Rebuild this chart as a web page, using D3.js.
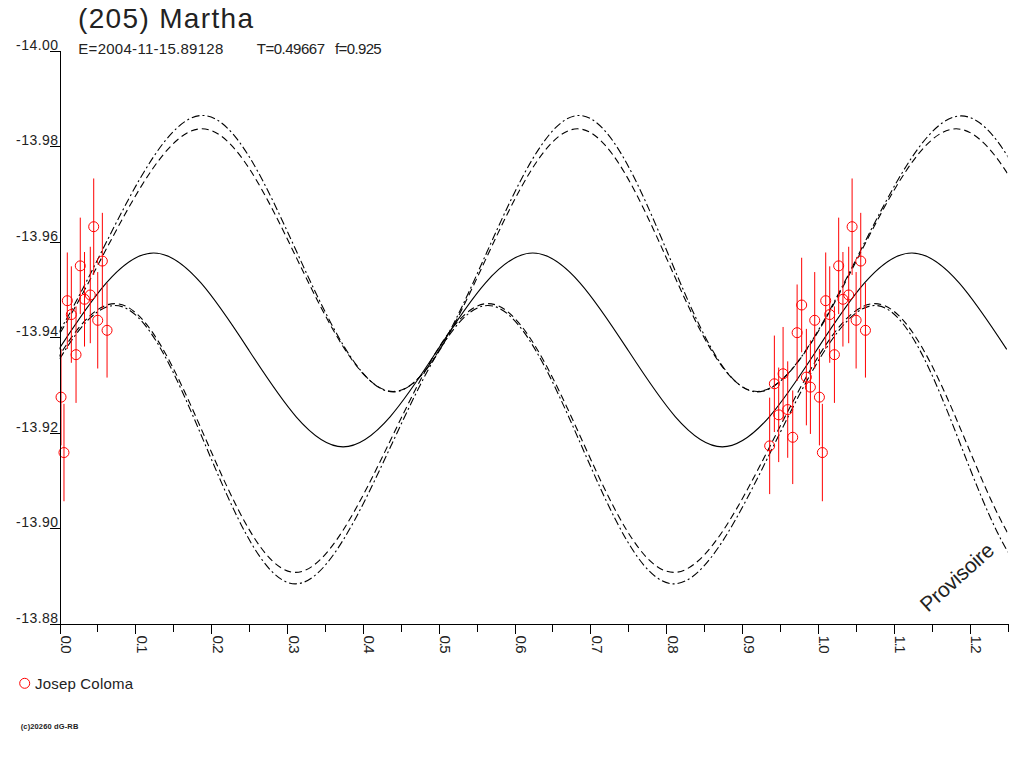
<!DOCTYPE html>
<html><head><meta charset="utf-8">
<script src="https://cdn.jsdelivr.net/npm/d3@7"></script>
<style>
html,body{margin:0;padding:0;background:#fff;}
svg{display:block;}
text{font-family:"Liberation Sans",Arial,Helvetica,sans-serif;fill:#222;}
</style></head><body>
<svg id="c" width="1024" height="768"></svg>
<script>
// ---- texts ----
const title = "(205) Martha";
const subtitleParts = ["E=2004-11-15.89128", "T=0.49667", "f=0.925"];
const observer = "Josep Coloma";
const footer = "(c)20260 dG-RB";
const watermark = "Provisoire";

// ---- observations (phase, reduced magnitude, error) ----
const obsPhase = [0.9364,0.9426,0.9483,0.9541,0.9602,0.9668,0.9726,0.9786,0.9848,0.9901,0.9958,1.0020,1.0059,1.0103,1.0156,1.0218,1.0274,1.0330,1.0406,1.0451,1.0504,1.0565,1.0627];
const obsMag   = [-13.9172,-13.9302,-13.9237,-13.9323,-13.9248,-13.9190,-13.9409,-13.9467,-13.9316,-13.9295,-13.9435,-13.9274,-13.9158,-13.9476,-13.9447,-13.9363,-13.9549,-13.9479,-13.9488,-13.9631,-13.9435,-13.9559,-13.9414];
const obsErr   = [0.0101,0.0101,0.0099,0.0098,0.0101,0.0098,0.0101,0.0099,0.0101,0.0098,0.0101,0.0101,0.0102,0.0101,0.0101,0.0101,0.0101,0.0099,0.0101,0.0101,0.0101,0.0101,0.0099];

// ---- fitted curve (solid) and envelopes: extrema and mean crossings
// (a point just outside each end keeps the curve shape right at the plot edges; it is clipped) ----
const solidPhase = [-0.001,0.124,0.249,0.374,0.499,0.624,0.749,0.874,0.999,1.124,1.249];
const solidMag   = [-13.9374,-13.9576,-13.9374,-13.9170,-13.9374,-13.9576,-13.9374,-13.9170,-13.9374,-13.9576,-13.9374];

const dotUpPhase = [-0.1975,-0.08,0.054,0.1885,0.314,0.44,0.5625,0.685,0.8025,0.92,1.054,1.189,1.314];
const dotUpMag   = [-13.9574,-13.9285,-13.9574,-13.9864,-13.9574,-13.9285,-13.9574,-13.9864,-13.9574,-13.9285,-13.9574,-13.9863,-13.9574];

const dashUpPhase = [-0.1985,-0.08,0.054,0.1878,0.3139,0.44,0.5615,0.683,0.8015,0.92,1.0512,1.1823,1.311];
const dashUpMag   = [-13.9561,-13.9286,-13.9561,-13.9836,-13.9561,-13.9286,-13.9561,-13.9836,-13.9561,-13.9286,-13.9561,-13.9836,-13.9561];

const dashLowPhase = [-0.0585,0.073,0.192,0.311,0.438,0.565,0.6875,0.81,0.9425,1.075,1.193,1.305,1.43];
const dashLowMag   = [-13.9189,-13.9470,-13.9189,-13.8907,-13.9189,-13.9470,-13.9189,-13.8907,-13.9189,-13.9470,-13.9189,-13.8907,-13.9189];

const dotLowPhase = [-0.0585,0.073,0.192,0.311,0.438,0.565,0.6875,0.81,0.9425,1.075,1.188,1.298,1.42];
const dotLowMag   = [-13.9175,-13.9466,-13.9175,-13.8883,-13.9175,-13.9466,-13.9175,-13.8883,-13.9175,-13.9466,-13.9175,-13.8883,-13.9175];

// ---- axes ----
const xTicks = [0,0.1,0.2,0.3,0.4,0.5,0.6,0.7,0.8,0.9,1.0,1.1,1.2];
const xMinorTicks = [0.05,0.15,0.25,0.35,0.45,0.55,0.65,0.75,0.85,0.95,1.05,1.15,1.25];
const yTicks = [-14.00,-13.98,-13.96,-13.94,-13.92,-13.90,-13.88];
const xDomain = [0, 1.25];
const yDomain = [-14.00, -13.88];

const svg = d3.select("#c");
const x = d3.scaleLinear().domain(xDomain).range([59.5, 1007.5]);
const y = d3.scaleLinear().domain(yDomain).range([50.5, 623.5]);

// title
svg.append("text").attr("x", 78).attr("y", 28).attr("font-size", 28)
  .attr("textLength", 175).attr("lengthAdjust", "spacing").text(title);
const subX = [78.3, 256.7, 335];
const subLen = [145, 68.3, 46.7];
subtitleParts.forEach((s, i) => {
  svg.append("text").attr("x", subX[i]).attr("y", 53.5).attr("font-size", 15)
    .attr("textLength", subLen[i]).attr("lengthAdjust", "spacing").text(s);
});

// clip
svg.append("defs").append("clipPath").attr("id", "plot")
  .append("rect").attr("x", 59.5).attr("y", 30).attr("width", 948).attr("height", 610);

const line = d3.line().x(d => x(d[0])).y(d => y(d[1])).curve(d3.curveNatural);
const curves = [
  {p: solidPhase, m: solidMag, dash: null},
  {p: dashUpPhase, m: dashUpMag, dash: "7,4"},
  {p: dotUpPhase, m: dotUpMag, dash: "8,3,2,3"},
  {p: dashLowPhase, m: dashLowMag, dash: "7,4"},
  {p: dotLowPhase, m: dotLowMag, dash: "8,3,2,3"}
];
const gc = svg.append("g").attr("clip-path", "url(#plot)");
curves.forEach(c => {
  gc.append("path").datum(c.p.map((p, i) => [p, c.m[i]]))
    .attr("d", line).attr("fill", "none").attr("stroke", "#000")
    .attr("stroke-width", 1.1).attr("stroke-dasharray", c.dash);
});

// observations: phase >= 1 also shown at phase-1
const pts = [];
obsPhase.forEach((p, i) => {
  pts.push({p: p, m: obsMag[i], e: obsErr[i]});
  if (p >= 1) pts.push({p: p - 1, m: obsMag[i], e: obsErr[i]});
});
const gp = svg.append("g");
gp.selectAll("line.err").data(pts).enter().append("line")
  .attr("x1", d => x(d.p)).attr("x2", d => x(d.p))
  .attr("y1", d => y(d.m - d.e)).attr("y2", d => y(d.m + d.e))
  .attr("stroke", "#f00").attr("stroke-width", 1);
gp.selectAll("circle").data(pts).enter().append("circle")
  .attr("cx", d => x(d.p)).attr("cy", d => y(d.m)).attr("r", 5)
  .attr("fill", "none").attr("stroke", "#f00").attr("stroke-width", 1);

// x axis
const gx = svg.append("g").attr("transform", `translate(0,${y(yDomain[1])})`);
gx.call(d3.axisBottom(x).tickValues(xTicks).tickSize(10).tickSizeOuter(0).tickFormat(d => d.toFixed(1)));
gx.selectAll(".tick line").attr("stroke", "#000");
gx.select(".domain").attr("stroke", "#000");
gx.selectAll(".tick text")
  .attr("x", null).attr("y", null).attr("dy", null)
  .attr("transform", "translate(1,12) rotate(90)")
  .style("text-anchor", "start")
  .attr("font-size", 15).attr("font-family", "Liberation Sans, Arial, sans-serif")
  .attr("fill", "#222").attr("textLength", 18).attr("lengthAdjust", "spacing");
const gxm = svg.append("g").attr("transform", `translate(0,${y(yDomain[1])})`);
gxm.call(d3.axisBottom(x).tickValues(xMinorTicks).tickSize(8).tickSizeOuter(0).tickFormat(""));
gxm.select(".domain").remove();
gxm.selectAll(".tick line").attr("stroke", "#000");

// y axis
const gy = svg.append("g").attr("transform", `translate(${x(0)},0)`);
gy.call(d3.axisLeft(y).tickValues(yTicks).tickSize(10).tickSizeOuter(0).tickFormat(d => d.toFixed(2)));
gy.select(".domain").attr("stroke", "#000");
gy.selectAll(".tick line").attr("stroke", "#000");
gy.selectAll(".tick text")
  .attr("x", -1.5).attr("y", -1.5).attr("dy", null)
  .style("text-anchor", "end")
  .attr("font-size", 14).attr("font-family", "Liberation Sans, Arial, sans-serif")
  .attr("fill", "#222").attr("textLength", 42).attr("lengthAdjust", "spacing");
svg.selectAll(".domain, .tick line").attr("shape-rendering", "crispEdges");

// watermark
svg.append("text").attr("transform", "translate(928,613) rotate(-42)")
  .attr("font-size", 21).attr("textLength", 91).attr("lengthAdjust", "spacing")
  .attr("fill", "#111").text(watermark);

// legend
svg.append("circle").attr("cx", 24.7).attr("cy", 683.3).attr("r", 5)
  .attr("fill", "none").attr("stroke", "#f00").attr("stroke-width", 1);
svg.append("text").attr("x", 35).attr("y", 688.5).attr("font-size", 15)
  .attr("textLength", 98).attr("lengthAdjust", "spacing").text(observer);

// footer
svg.append("text").attr("x", 20.7).attr("y", 728.5).attr("font-size", 7.5)
  .attr("font-weight", "bold").attr("textLength", 57.6).attr("lengthAdjust", "spacing")
  .text(footer);
</script>
</body></html>
